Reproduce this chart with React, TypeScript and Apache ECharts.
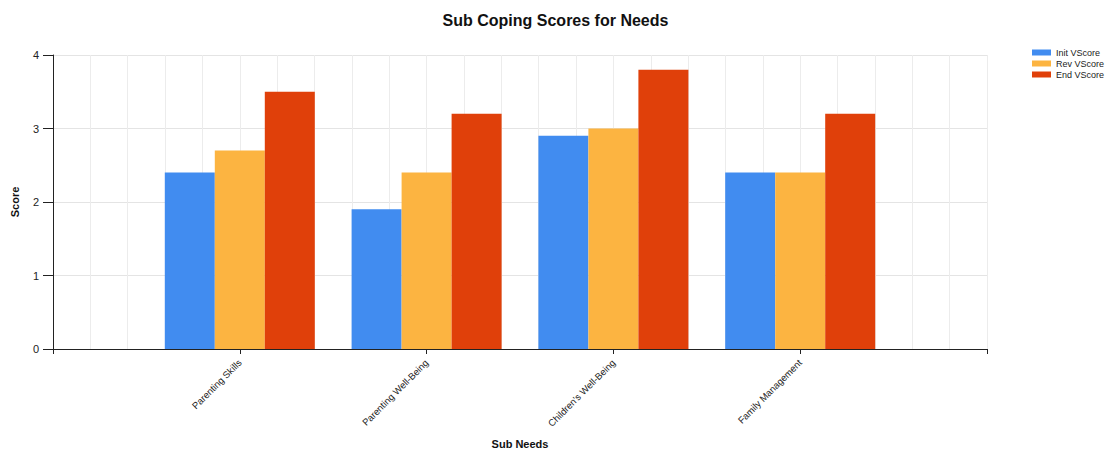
import React, { useEffect, useRef } from "react";
import * as echarts from "echarts";

const categories = ["Parenting Skills", "Parenting Well-Being", "Children's Well-Being", "Family Management"];
const initScores = [2.4, 1.9, 2.9, 2.4];
const revScores = [2.7, 2.4, 3.0, 2.4];
const endScores = [3.5, 3.2, 3.8, 3.2];
const seriesNames = ["Init VScore", "Rev VScore", "End VScore"];
const colors = ["#418CF0", "#FCB441", "#E0400A"];
const yTicks = [0, 1, 2, 3, 4];

const FONT = "'Liberation Sans', Arial, sans-serif";

export default function App() {
  const ref = useRef<HTMLDivElement>(null);
  useEffect(() => {
    document.body.style.margin = "0";
    const chart = echarts.init(ref.current!, null, { renderer: "svg" });
    const pad = (arr: number[]) => ["-", ...arr, "-"];
    const all = [initScores, revScores, endScores];
    chart.setOption({
      animation: false,
      textStyle: { fontFamily: FONT },
      title: {
        text: "Sub Coping Scores for Needs",
        left: "center",
        top: 7,
        textStyle: { fontSize: 16, fontWeight: "bold", color: "#111", fontFamily: FONT },
      },
      legend: {
        orient: "vertical",
        left: 1027,
        top: 43,
        itemWidth: 19,
        itemHeight: 6,
        itemGap: 2,
        icon: "rect",
        textStyle: { fontSize: 9, color: "#222", fontFamily: FONT },
        data: seriesNames,
      },
      grid: { left: 53, right: 124, top: 55, bottom: 102, containLabel: false },
      xAxis: [
        {
          type: "category",
          data: ["", ...categories, ""],
          boundaryGap: false,
          axisLine: { lineStyle: { color: "#222", width: 1 } },
          axisTick: { length: 5, lineStyle: { color: "#222" } },
          axisLabel: { rotate: 45, interval: 0, fontSize: 9.5, color: "#222", margin: 12, fontFamily: FONT },
          splitLine: { show: false },
          name: "Sub Needs",
          nameLocation: "middle",
          nameGap: 89,
          nameTextStyle: { fontSize: 11, fontWeight: "bold", color: "#111", fontFamily: FONT },
          z: 5,
        },
        {
          type: "value",
          min: 0,
          max: 25,
          interval: 1,
          position: "bottom",
          axisLine: { show: false },
          axisTick: { show: false },
          axisLabel: { show: false },
          splitLine: { show: true, lineStyle: { color: "#ececec", width: 1 } },
        },
      ],
      yAxis: {
        type: "value",
        min: yTicks[0],
        max: yTicks[yTicks.length - 1],
        interval: 1,
        axisLine: { show: true, lineStyle: { color: "#222", width: 1 } },
        axisTick: { show: true, length: 10, lineStyle: { color: "#222" } },
        axisLabel: { fontSize: 11, color: "#222", margin: 14, fontFamily: FONT },
        splitLine: { show: true, lineStyle: { color: "#e4e4e4", width: 1 } },
        name: "Score",
        nameLocation: "middle",
        nameGap: 33,
        nameTextStyle: { fontSize: 11, fontWeight: "bold", color: "#111", fontFamily: FONT },
      },
      series: seriesNames.map((name, i) => ({
        name,
        type: "bar",
        xAxisIndex: 0,
        data: pad(all[i]),
        barWidth: 50,
        barGap: "0%",
        itemStyle: { color: colors[i] },
      })),
    });
    return () => chart.dispose();
  }, []);
  return <div ref={ref} style={{ width: 1111, height: 454 }} />;
}
